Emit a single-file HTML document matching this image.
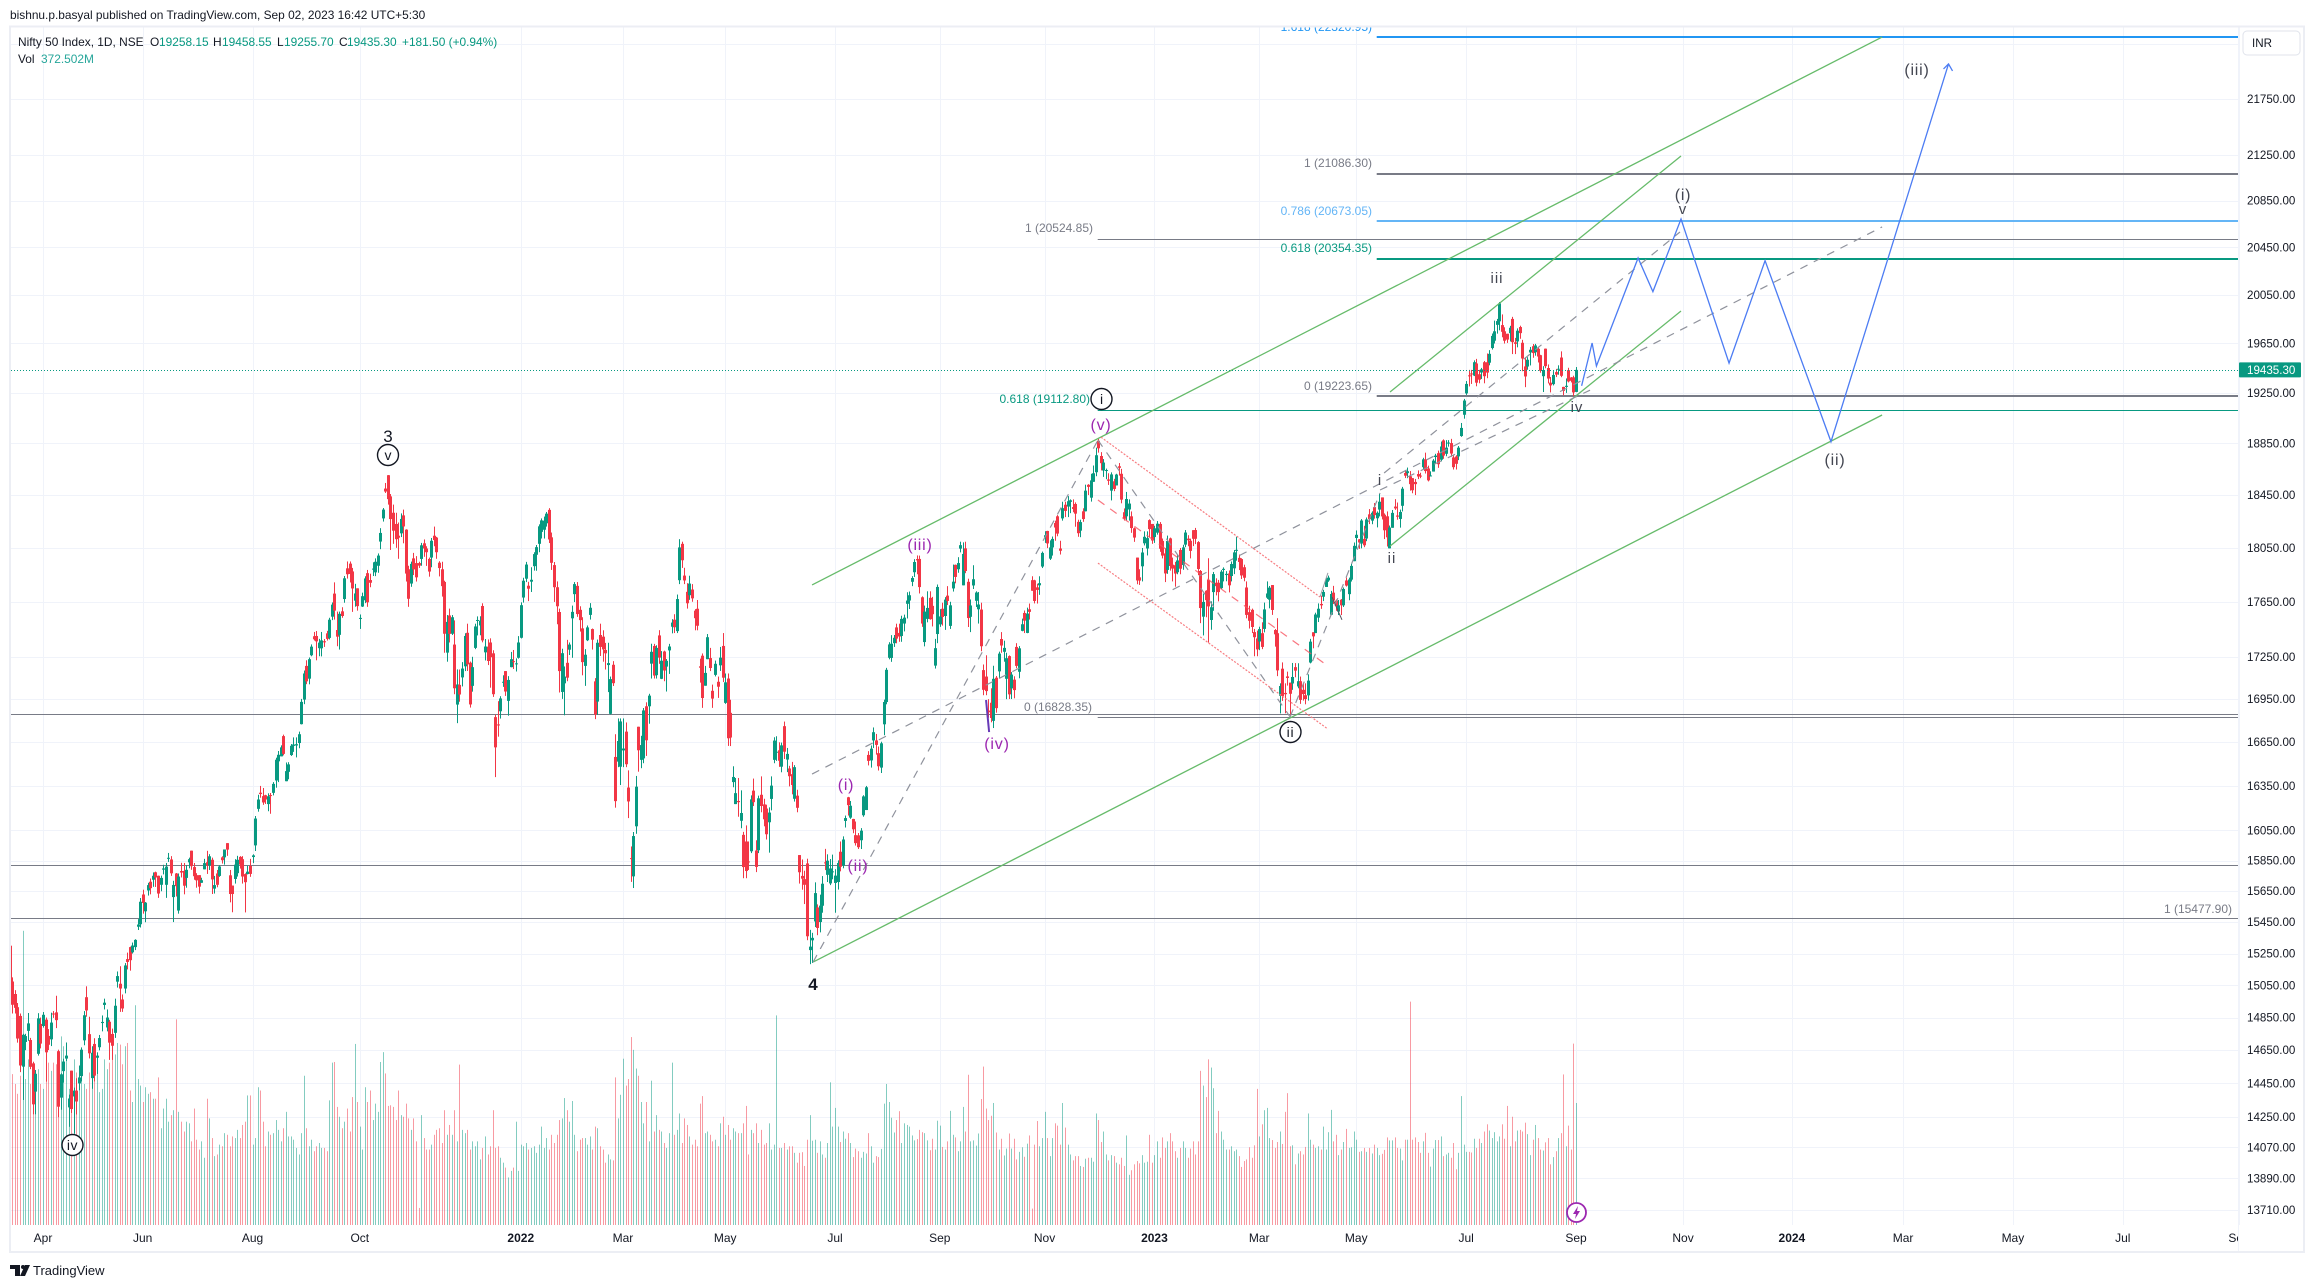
<!DOCTYPE html>
<html lang="en">
<head>
<meta charset="utf-8">
<title>Nifty 50 Index, 1D, NSE</title>
<style>
html,body{margin:0;padding:0;background:#fff;width:2315px;height:1288px;overflow:hidden}
svg{display:block;font-family:"Liberation Sans",sans-serif}
</style>
</head>
<body>
<svg id="chart" xmlns="http://www.w3.org/2000/svg" width="2315" height="1288" viewBox="0 0 2315 1288">
  <defs>
    <clipPath id="pane-clip"><rect x="11" y="27" width="2227" height="1198"/></clipPath>
    <clipPath id="time-clip"><rect x="11" y="1225" width="2227" height="26"/></clipPath>
  </defs>
  <rect x="0" y="0" width="2315" height="1288" fill="#ffffff"/>
  <text x="10" y="19" font-size="11.9" fill="#131722">bishnu.p.basyal published on TradingView.com, Sep 02, 2023 16:42 UTC+5:30</text>
  <g id="grid"></g>
  <g clip-path="url(#pane-clip)">
    <g id="volumes"></g>
    <g id="levels"></g>
    <g id="candles"></g>
    <g id="trends"></g>
    <polyline id="projection" fill="none" stroke="#4c7cf3" stroke-width="1.3"/>
    <polyline id="projection-arrow" fill="none" stroke="#4c7cf3" stroke-width="1.3"/>
    <g font-size="12" text-anchor="end">
      <text x="1372" y="31" fill="#2196f3">1.618 (22320.95)</text>
      <text x="1372" y="167" fill="#787b86">1 (21086.30)</text>
      <text x="1372" y="215" fill="#64b5f6">0.786 (20673.05)</text>
      <text x="1093" y="232" fill="#787b86">1 (20524.85)</text>
      <text x="1372" y="252" fill="#089981">0.618 (20354.35)</text>
      <text x="1372" y="390" fill="#787b86">0 (19223.65)</text>
      <text x="1090" y="403" fill="#089981">0.618 (19112.80)</text>
      <text x="1092" y="711" fill="#787b86">0 (16828.35)</text>
      <text x="2232" y="913" fill="#787b86">1 (15477.90)</text>
    </g>
    <g text-anchor="middle">
      <text x="388" y="442" font-size="17" fill="#131722">3</text>
      <circle cx="388" cy="455" r="10.5" fill="#fff" stroke="#131722" stroke-width="1.4"/>
      <text x="388" y="460" font-size="14" fill="#131722">v</text>
      <circle cx="72.5" cy="1145" r="10.5" fill="#fff" stroke="#131722" stroke-width="1.4"/>
      <text x="72.5" y="1150" font-size="14" letter-spacing="0.6" fill="#131722">iv</text>
      <text x="813" y="990" font-size="17" font-weight="bold" fill="#131722">4</text>
      <circle cx="1101.5" cy="399" r="10.5" fill="#fff" stroke="#131722" stroke-width="1.4"/>
      <text x="1101.5" y="404" font-size="14" fill="#131722">i</text>
      <circle cx="1290.5" cy="732" r="10.5" fill="#fff" stroke="#131722" stroke-width="1.4"/>
      <text x="1290.5" y="737" font-size="14" letter-spacing="0.8" fill="#131722">ii</text>
      <g font-size="16" letter-spacing="0.8" fill="#9c27b0">
        <text x="846" y="790">(i)</text>
        <text x="858" y="871">(ii)</text>
        <text x="920" y="550">(iii)</text>
        <text x="997" y="749">(iv)</text>
        <text x="1101" y="430">(v)</text>
      </g>
      <g font-size="15" letter-spacing="1" fill="#434651">
        <text x="1380" y="485">i</text>
        <text x="1392" y="563">ii</text>
        <text x="1497" y="283">iii</text>
        <text x="1577" y="412">iv</text>
        <text x="1683" y="214">v</text>
      </g>
      <g font-size="16" letter-spacing="0.8" fill="#434651">
        <text x="1683" y="200">(i)</text>
        <text x="1835" y="465">(ii)</text>
        <text x="1917" y="75">(iii)</text>
      </g>
    </g>
    <g>
      <circle cx="1576.5" cy="1212.5" r="9.5" fill="#fff" stroke="#9c27b0" stroke-width="1.8"/>
      <polygon points="1578,1206 1573,1214 1576,1214 1575,1219 1580,1211 1577,1211" fill="#9c27b0"/>
    </g>
  </g>
  <line id="last-line" x1="11" x2="2238" stroke="#089981" stroke-width="1" stroke-dasharray="1 2"/>
  <g font-size="11.9">
    <text x="18" y="46" fill="#131722">Nifty 50 Index, 1D, NSE</text>
    <text x="150" y="46" fill="#131722">O</text>
    <text x="159" y="46" fill="#089981">19258.15</text>
    <text x="213" y="46" fill="#131722">H</text>
    <text x="222" y="46" fill="#089981">19458.55</text>
    <text x="277" y="46" fill="#131722">L</text>
    <text x="284" y="46" fill="#089981">19255.70</text>
    <text x="339" y="46" fill="#131722">C</text>
    <text x="347" y="46" fill="#089981">19435.30</text>
    <text x="402" y="46" fill="#089981">+181.50 (+0.94%)</text>
    <text x="18" y="63" fill="#131722">Vol</text>
    <text x="41" y="63" fill="#26a69a">372.502M</text>
  </g>
  <line x1="2238.5" x2="2238.5" y1="27" y2="1252" stroke="#f0f3fa"/>
  <g id="price-axis" font-size="11.6" fill="#131722"></g>
  <g id="time-axis" font-size="12" fill="#131722" text-anchor="middle" clip-path="url(#time-clip)"></g>
  <rect id="last-tag" x="2239" width="62" height="15" rx="1" fill="#089981"/>
  <text id="last-text" x="2247" font-size="11.6" fill="#ffffff">19435.30</text>
  <rect x="2243" y="31" width="57" height="24" rx="4" fill="#fff" stroke="#e0e3eb"/>
  <text x="2252" y="47" font-size="11.6" fill="#131722">INR</text>
  <rect x="10" y="26.5" width="2294" height="1225.5" fill="none" stroke="#eceef4" stroke-width="2"/>
  <g>
    <polygon points="10,1265 20,1265 20,1276 15,1276 15,1269 10,1269" fill="#131722"/>
    <circle cx="23" cy="1267" r="2" fill="#131722"/>
    <polygon points="25,1265 30,1265 25,1276 20,1276" fill="#131722"/>
    <text x="33" y="1275" font-size="13" fill="#131722">TradingView</text>
  </g>
</svg>
<script>
const opens = [
15300,15074,14996,14914,14860,14550,14700,14768,14712,14570,14400,14628,14811,
14798,14837,14737,14716,14875,14882,14644,14364,14523,14599,14306,14526,14371,14406,14449,14493,14710,14976,14748,
14481,14688,14604,14668,14816,14928,14789,14824,14749,14756,15073,15060,14962,15030,15215,15291,15258,15291,15421,15437,
15629,15520,15655,15712,15725,15774,15751,15692,15791,15692,15867,15858,15612,15766,15525,15782,15783,15737,15839,15916,15808,15755,
15755,15705,15793,15840,15819,15856,15667,15766,15750,15872,15872,15966,15754,15687,15730,15768,15875,15860,15762,15762,15815,
15874,15951,16195,16304,16281,16287,16227,16288,16303,16387,16518,16552,16692,16382,16446,16561,16624,16627,16644,16775,16947,
17186,17095,17262,17399,17401,17313,17312,17363,17420,17387,17541,17710,17444,17409,17580,17670,17897,17932,17874,17658,17749,
17531,17615,17661,17861,17810,17887,17867,17916,18097,18272,18500,18603,18440,18315,18230,18141,18159,18295,18187,17890,
17784,17971,17936,17936,17967,18084,18045,17967,17977,18141,18127,17939,17890,17796,17281,17550,17417,17339,16912,17051,
17104,17183,17424,17209,17044,17315,17516,17477,17619,17283,17324,17354,17276,16824,16773,16865,17066,17149,16938,17177,17220,17201,17244,
17388,17681,17820,17768,17798,17913,17998,18080,18170,18186,18235,18337,18129,17921,17757,17575,17001,17062,17208,17302,
17529,17706,17767,17591,17456,17186,17370,17554,17451,17076,16933,17408,17396,17300,17192,16847,17194,16548,16516,16481,
16593,16723,16339,15867,15747,16078,16757,16528,16538,16900,16900,17202,17329,17120,17405,17094,17289,17181,17297,17468,17519,
17436,17809,18080,17843,17723,17698,17740,17585,17599,17183,17259,17045,17234,17242,17009,17122,17073,17190,17329,
16924,17096,16854,16376,16227,16248,16115,16021,15977,15845,15912,16318,15917,15919,16290,16225,16197,16105,16262,16528,16578,
16594,16481,16761,16530,16469,16430,16263,16284,15887,15750,15729,15832,15272,15334,15455,15545,15451,15556,15839,15757,15701,15774,
15704,15710,15909,15818,16114,16273,16136,16127,16019,16018,15985,16152,16187,16562,16524,16662,16662,16574,16475,16774,16930,
17244,17243,17349,17463,17423,17401,17491,17635,17659,17797,17868,17966,17967,17683,17357,17525,17679,17620,17188,17415,
17485,17599,17546,17695,17474,17748,17923,17890,18044,17771,18046,17797,17540,17770,17657,17595,17593,17156,17110,16870,16925,16798,
17102,17147,17379,17287,17094,17256,17026,17088,17322,17144,17438,17568,17423,17595,17809,17808,17756,17771,17910,
18130,18177,17969,18053,18237,18288,18045,18272,18376,18362,18398,18358,18382,18246,18179,18326,18326,18529,18430,18552,18626,
18871,18752,18639,18638,18570,18484,18556,18524,18672,18614,18319,18288,18340,18288,18197,17977,17830,17912,18084,18045,18259,18230,
18131,18164,18230,18102,18008,17885,18121,17924,17920,17868,18034,17922,18074,18119,18103,18183,18184,18093,17877,17541,17731,
17812,17517,17721,17790,17790,17750,17885,17847,17859,17840,17897,18034,17975,17966,17905,17755,17574,17591,17429,17383,
17361,17421,17452,17680,17665,17773,17444,17421,16974,17166,16994,17111,17067,17061,17177,17040,17077,17016,16978,16977,17210,
17428,17422,17534,17634,17687,17759,17807,17555,17717,17659,17578,17665,17624,17807,17706,17813,17950,
18124,18114,18082,18117,18120,18303,18255,18358,18273,18339,18432,18300,18288,18046,18201,18362,18294,18268,18368,18620,18619,18595,
18580,18551,18612,18600,18665,18726,18655,18595,18631,18744,18774,18723,18874,18769,18849,18853,18741,18748,18749,18908,19076,
19246,19391,19406,19389,19487,19400,19414,19497,19497,19493,19612,19672,19802,19831,19800,19749,19729,19734,19851,19659,19666,
19784,19655,19463,19462,19576,19627,19578,19606,19554,19384,19607,19450,19332,19320,19417,19440,19535,19298,19298,19433,19374,19375,
19258];
const highs = [
15336,15100,15020,14940,14875,14750,14750,14878,14725,14580,14530,14877,14850,
14884,14850,14779,14880,14890,14985,14653,14510,14598,14697,14382,14526,14424,14480,14557,14667,14890,15044,14855,
14674,14723,14637,14743,14863,14967,14900,14836,14782,14967,15137,15170,14993,15190,15256,15294,15320,15341,15470,15606,
15660,15580,15705,15733,15773,15778,15752,15752,15823,15835,15901,15880,15718,15769,15766,15836,15835,15821,15870,15916,15835,15768,
15755,15738,15862,15915,15893,15870,15750,15789,15820,15879,15910,15962,15789,15660,15860,15882,15880,15880,15767,15817,15862,
15892,16147,16290,16350,16336,16290,16300,16302,16376,16543,16589,16628,16702,16510,16512,16637,16683,16683,16723,16952,17153,
17226,17246,17340,17430,17437,17380,17430,17379,17438,17533,17645,17793,17578,17578,17610,17840,17948,17948,17900,17782,17743,
17557,17717,17838,17885,17857,17942,17971,18008,18198,18351,18543,18604,18458,18377,18315,18241,18310,18339,18190,17916,
17947,18012,17988,17946,18087,18113,18062,17977,18124,18210,18132,17950,17946,17805,17553,17600,17553,17514,17161,17160,
17213,17421,17490,17217,17251,17490,17543,17544,17639,17379,17376,17384,17298,16841,16936,16971,17119,17119,17113,17286,17300,17240,17400,
17646,17827,17945,17797,17905,18017,18071,18227,18272,18286,18321,18350,18165,17944,17800,17600,17309,17182,17373,17354,
17622,17795,17795,17617,17537,17306,17477,17640,17455,17099,17375,17490,17442,17351,17352,17110,17220,16705,16815,16815,
16815,16787,16456,15944,16040,16418,16757,16694,16888,16928,16988,17345,17344,17334,17443,17292,17295,17235,17344,17523,17559,
17703,18115,18096,17901,17787,17842,17780,17596,17663,17238,17275,17186,17415,17315,17053,17224,17110,17322,17422,
17132,17132,16946,16484,16404,16404,16320,16041,16084,15977,16286,16400,15985,16284,16415,16263,16223,16205,16415,16684,16691,
16649,16647,16793,16610,16487,16514,16492,16324,15887,15858,15784,15863,15401,15382,15708,15565,15628,15749,15928,15892,15861,15890,
15794,15852,15977,16011,16150,16276,16248,16128,16110,16033,16066,16287,16350,16588,16627,16752,16707,16620,16653,16947,17172,
17356,17407,17408,17490,17490,17548,17556,17720,17725,17839,17965,17993,17992,17690,17622,17727,17727,17686,17380,17777,
17596,17643,17684,17765,17650,17925,17925,17980,18096,18091,18096,17820,17667,17920,17727,17722,17643,17196,17262,16950,17027,17187,
17114,17288,17429,17367,17280,17261,17142,17112,17349,17328,17527,17586,17607,17637,17838,17812,17783,17838,18022,
18175,18178,18106,18135,18255,18297,18103,18399,18399,18442,18417,18417,18394,18262,18262,18349,18530,18534,18614,18678,18817,
18888,18782,18728,18654,18618,18625,18575,18614,18697,18652,18348,18474,18417,18325,18203,17977,17890,18049,18174,18174,18265,18230,
18216,18252,18244,18120,18047,18142,18127,17977,17945,17999,18049,18073,18184,18145,18119,18162,18200,18100,17884,17710,17735,
17972,17653,17870,17823,17811,17884,17904,17876,17881,17948,18034,18134,18000,17972,17924,17800,17621,17600,17452,17440,
17468,17500,17644,17800,17766,17772,17451,17530,17062,17211,17062,17145,17067,17207,17206,17205,17110,17062,17062,17126,17380,
17428,17570,17638,17695,17738,17826,17843,17730,17767,17667,17663,17670,17755,17828,17828,17931,18090,
18181,18116,18267,18216,18279,18343,18326,18389,18325,18458,18432,18310,18325,18218,18336,18419,18393,18339,18513,18641,18662,18635,
18580,18574,18640,18622,18738,18778,18677,18633,18728,18769,18794,18865,18882,18876,18876,18886,18757,18758,18830,19011,19202,
19345,19435,19435,19512,19524,19435,19451,19507,19568,19595,19731,19837,19851,19991,19888,19782,19729,19794,19868,19695,19773,
19795,19679,19537,19538,19621,19645,19646,19623,19557,19465,19608,19479,19378,19425,19443,19472,19585,19299,19366,19452,19377,19388,
19458];
const lows = [
14954,14875,14875,14696,14517,14350,14650,14707,14535,14265,14265,14617,14661,
14788,14460,14651,14675,14848,14785,14248,14292,14454,14584,14191,14273,14151,14264,14408,14461,14680,14855,14600,
14417,14461,14506,14649,14765,14900,14765,14591,14591,14725,15036,14885,14885,15000,15150,15142,15250,15272,15400,15416,
15505,15450,15622,15630,15679,15678,15607,15650,15760,15607,15842,15750,15451,15616,15505,15740,15630,15673,15800,15790,15725,15673,
15635,15705,15793,15763,15789,15632,15635,15676,15744,15831,15824,15882,15578,15514,15700,15746,15798,15700,15513,15760,15744,
15834,15914,16176,16270,16222,16228,16179,16162,16286,16338,16376,16552,16559,16395,16395,16555,16583,16545,16608,16773,16915,
17056,17055,17255,17368,17226,17255,17254,17322,17368,17376,17516,17520,17327,17303,17533,17643,17821,17792,17576,17614,17585,
17452,17612,17640,17613,17757,17840,17839,17864,18040,18248,18466,18377,18034,18080,18050,17968,18131,18084,17799,17613,
17760,17847,17799,17900,17916,17983,17915,17835,17905,18062,17968,17837,17688,17280,17216,17354,17408,16985,16782,16932,
17040,17149,17150,16891,17003,17306,17405,17406,17355,17225,17192,17031,16966,16410,16688,16814,17037,16973,16834,17176,17164,17146,17238,
17383,17644,17795,17655,17722,17880,17879,18017,18120,18120,18210,18086,17885,17649,17486,16997,16952,16837,17077,17264,
17244,17648,17540,17433,17119,17044,17364,17520,17303,16810,16839,17257,17216,17160,17000,16843,17043,16203,16478,16356,
16478,16478,16133,15711,15671,16028,16447,16471,16505,16555,16778,17096,17096,17096,17201,17092,17077,17004,17129,17420,17422,
17422,17780,17900,17780,17600,17664,17650,17442,17442,17067,16889,17046,17234,17149,16889,17111,16959,17150,17071,
16917,16624,16623,16341,16243,16142,16065,15735,15735,15789,15900,16214,15775,15900,16172,16078,15990,15903,16185,16505,16521,
16480,16443,16534,16444,16347,16293,16244,16172,15700,15660,15567,15335,15183,15191,15419,15367,15385,15511,15788,15710,15690,15728,
15511,15661,15780,15800,16070,16150,16128,16032,15950,15927,15927,16142,16187,16490,16475,16610,16564,16455,16438,16698,16914,
17233,17215,17322,17348,17359,17359,17434,17528,17597,17765,17833,17853,17711,17467,17326,17500,17519,17470,17167,17349,
17467,17476,17445,17626,17452,17725,17786,17864,18016,17772,17861,17466,17429,17744,17612,17491,17291,16978,16978,16820,16788,16748,
16855,17097,17280,17216,16950,16951,16951,16956,17169,17098,17435,17422,17421,17520,17747,17638,17637,17701,17899,
18087,18048,17959,17992,18103,18137,18000,18255,18282,18282,18312,18319,18209,18133,18130,18246,18325,18450,18400,18552,18595,
18778,18640,18590,18572,18528,18409,18480,18524,18600,18387,18256,18256,18255,18163,18095,17779,17774,17800,18068,17993,18130,18080,
18087,18149,18020,17971,17795,17856,17880,17800,17761,17853,17853,17886,18055,18062,17971,18063,18078,17846,17494,17405,17537,
17353,17446,17584,17697,17653,17744,17800,17801,17719,17800,17854,17954,17884,17818,17801,17529,17455,17422,17255,17255,
17299,17306,17427,17671,17602,17554,17324,17113,16850,16938,16851,17046,16828,17016,17105,17027,16917,16940,16914,16940,17204,
17312,17422,17502,17598,17655,17759,17797,17553,17634,17584,17553,17553,17612,17762,17661,17799,17950,
18043,18042,18046,18055,18100,18229,18228,18270,18204,18287,18264,18116,18060,18046,18201,18337,18262,18202,18325,18581,18580,18484,
18464,18450,18573,18580,18650,18616,18555,18595,18631,18690,18660,18710,18730,18750,18825,18746,18647,18647,18720,18902,19045,
19234,19302,19322,19385,19303,19327,19362,19327,19368,19472,19600,19649,19730,19757,19700,19649,19654,19666,19563,19563,19618,
19688,19424,19296,19436,19471,19533,19550,19495,19412,19257,19448,19326,19254,19310,19377,19396,19376,19230,19250,19334,19334,19224,
19256];
const closes = [
15031,14929,14910,14721,14557,14744,14736,14814,14549,14324,14507,14845,14690,
14867,14637,14683,14819,14873,14834,14310,14504,14581,14617,14359,14296,14406,14341,14485,14653,14864,14894,14631,
14634,14496,14617,14724,14823,14942,14850,14696,14677,14923,15108,15030,14906,15175,15197,15208,15301,15337,15435,15582,
15574,15576,15690,15670,15751,15740,15635,15737,15799,15811,15869,15767,15691,15683,15746,15772,15686,15790,15860,15814,15748,15721,
15680,15722,15834,15818,15879,15727,15690,15692,15812,15853,15924,15923,15632,15632,15824,15856,15824,15746,15709,15778,15763,
15885,16130,16258,16295,16238,16258,16280,16282,16364,16529,16563,16614,16569,16451,16497,16625,16634,16636,16705,16931,17132,
17076,17234,17324,17377,17362,17353,17369,17355,17380,17519,17629,17585,17396,17562,17546,17823,17853,17855,17748,17711,17618,
17532,17691,17822,17646,17790,17895,17946,17992,18162,18339,18477,18419,18267,18179,18115,18126,18268,18211,17858,17672,
17930,17889,17830,17917,18069,18045,18017,17873,18103,18109,18017,17899,17765,17417,17503,17416,17537,17027,17054,16983,
17167,17401,17197,16913,17177,17470,17517,17512,17369,17325,17221,17248,16985,16614,16770,16955,17073,17004,17086,17234,17214,17204,17354,
17625,17805,17925,17746,17812,18003,18055,18212,18257,18255,18308,18113,17938,17757,17617,17149,17277,17110,17102,17339,
17576,17780,17560,17516,17213,17266,17463,17606,17374,16842,17352,17322,17304,17276,17206,17092,17063,16247,16658,16794,
16606,16498,16245,15863,16013,16345,16594,16630,16871,16663,16975,17287,17117,17315,17245,17223,17153,17222,17325,17498,17464,
17670,18053,17957,17807,17639,17784,17675,17530,17475,17173,16958,17136,17392,17171,16954,17201,17038,17245,17102,
17069,16677,16682,16411,16301,16240,16167,15808,15782,15842,16259,16240,15809,16266,16214,16125,16025,16170,16352,16661,16584,
16522,16628,16584,16569,16416,16356,16478,16202,15774,15732,15692,15360,15294,15350,15638,15413,15557,15699,15832,15850,15799,15780,
15752,15835,15810,15990,16133,16220,16216,16058,15966,15939,16049,16279,16341,16521,16605,16719,16631,16484,16642,16930,17158,
17340,17345,17388,17382,17397,17525,17534,17659,17698,17825,17944,17956,17758,17491,17578,17605,17523,17559,17313,17759,
17543,17539,17666,17656,17624,17798,17833,17936,18070,18004,17877,17531,17623,17816,17718,17630,17327,17016,17007,16858,16818,17094,
16887,17274,17332,17315,17241,16984,17124,17014,17186,17312,17486,17512,17564,17576,17731,17656,17737,17787,18012,
18145,18083,18053,18117,18203,18157,18028,18350,18329,18403,18410,18344,18308,18160,18244,18267,18484,18513,18563,18618,18758,
18812,18696,18701,18643,18560,18609,18497,18608,18660,18415,18269,18420,18385,18199,18127,17807,17806,18015,18133,18123,18191,18105,
18197,18232,18043,17992,17859,18101,17914,17895,17858,17956,17894,18053,18165,18107,18027,18118,18118,17892,17604,17649,17662,
17616,17610,17854,17765,17721,17872,17893,17856,17771,17929,18016,18035,17944,17844,17827,17554,17511,17466,17392,17304,
17451,17322,17594,17711,17754,17590,17413,17154,17043,16972,16985,17100,16988,17107,17152,17077,16945,16986,16951,17081,17360,
17398,17557,17599,17624,17722,17812,17828,17707,17660,17618,17624,17624,17744,17769,17814,17915,18065,
18148,18090,18256,18069,18264,18266,18315,18297,18315,18399,18287,18182,18129,18203,18314,18348,18285,18321,18499,18599,18634,18534,
18487,18534,18593,18599,18726,18635,18563,18601,18716,18755,18688,18826,18755,18817,18857,18771,18665,18691,18817,18972,19189,
19322,19389,19399,19497,19332,19356,19439,19384,19413,19565,19711,19749,19833,19979,19745,19672,19681,19778,19660,19646,19754,
19734,19527,19382,19517,19598,19571,19633,19543,19428,19434,19465,19365,19310,19394,19397,19444,19387,19266,19307,19342,19347,19254,
19435];
const volumes = [
485,460,430,400,455,897,445,505,430,495,435,475,430,415,465,495,470,495,490,465,
575,545,545,415,465,505,465,415,525,430,415,465,445,475,500,405,415,505,475,495,
525,520,555,550,490,545,555,410,375,670,445,425,375,420,400,405,385,385,450,295,
355,385,315,335,350,627,345,315,285,315,310,255,355,260,230,255,205,385,325,265,
210,215,245,240,280,275,240,270,265,290,265,305,315,395,395,245,265,420,410,315,
240,285,275,280,320,290,255,295,345,270,270,260,235,215,280,455,295,240,260,225,
240,250,235,235,225,380,495,497,360,330,295,315,355,285,390,552,375,300,230,420,
375,410,320,370,345,497,527,462,363,365,360,320,410,335,330,370,325,290,325,255,
52,335,265,230,230,245,275,290,295,250,350,275,305,275,350,255,489,290,280,290,
230,255,240,255,200,235,270,215,240,350,235,240,205,190,175,145,165,175,315,165,
245,240,250,230,235,240,220,245,300,235,265,230,275,250,275,320,325,387,350,315,
378,275,225,260,265,265,245,270,230,300,295,240,230,190,215,200,197,450,325,397,
507,425,445,573,534,477,455,375,310,375,255,440,285,335,290,285,250,235,280,495,
275,290,340,250,325,305,270,245,260,240,370,393,280,285,275,255,260,240,310,330,
275,305,260,295,285,280,280,310,363,215,290,280,310,250,290,245,250,310,230,245,
639,235,235,250,230,240,240,220,190,220,222,180,260,335,257,260,220,255,215,205,
250,435,300,357,300,253,285,263,280,250,207,233,225,205,223,218,280,240,190,210,
207,232,370,430,375,327,282,320,347,250,310,305,300,273,258,262,290,283,280,258,
228,263,230,318,303,238,230,255,348,275,267,225,255,360,285,458,255,258,242,279,
384,483,355,320,333,372,282,230,263,212,233,279,233,263,200,223,237,208,248,273,
50,245,317,240,265,345,265,210,265,310,303,245,372,297,245,215,197,210,210,180,
177,202,205,205,193,340,320,253,285,215,197,213,210,190,185,205,180,273,153,167,
185,195,188,213,190,193,275,190,213,255,205,267,235,255,280,255,225,205,235,255,
235,205,233,255,215,255,470,425,390,505,480,417,280,348,285,260,230,230,240,225,
230,210,177,195,200,237,205,243,415,270,307,350,357,265,259,235,253,285,247,345,
402,240,243,185,218,225,215,238,340,260,245,235,240,230,300,230,283,351,255,275,
213,230,253,293,235,237,285,260,223,225,235,223,235,218,245,235,213,217,229,267,
258,258,267,235,233,197,260,260,681,260,267,253,220,255,281,220,178,233,259,259,
270,210,215,220,205,250,170,220,393,245,223,223,221,263,235,263,250,285,307,288,
265,283,255,270,307,263,363,240,330,255,288,290,285,312,277,213,260,305,265,230,
227,252,265,185,207,225,265,280,459,240,303,230,553,372];

const priceTicks = [21750,21250,20850,20450,20050,19650,19250,18850,18450,18050,17650,17250,16950,16650,16350,16050,15850,15650,15450,15250,15050,14850,14650,14450,14250,14070,13890,13710];
const gridOnlyTicks = [22250];
const timeLabels = ['Apr','Jun','Aug','Oct','2022','Mar','May','Jul','Sep','Nov','2023','Mar','May','Jul','Sep','Nov','2024','Mar','May','Jul','Sep'];
const timeBars = [13,52,95,137,200,240,280,323,364,405,448,489,527,570,613,654.9,697.5,741,784,827,872.5];

const lastPrice = 19435.30;

const levelNames = ['fib-1618-line','fib-21086-line','fib-0786-line','fib-20524-line','fib-0618-upper-line','fib-19223-line','fib-0618-lower-line','fib-16828-line','support-16845-line','support-15821-line','fib-15477-line'];
const levelPrices = [22320.95,21086.30,20673.05,20524.85,20354.35,19223.65,19112.80,16828.35,16845,15821,15477.90];
const levelStartBars = [535,535,535,425.8,535,535,425.8,425.8,-5,-5,-5];
const levelColors = ['#2196f3','#787b86','#64b5f6','#787b86','#089981','#787b86','#089981','#787b86','#787b86','#787b86','#787b86'];
const levelWidths = [2,2,2,1,2,2,1,1,1,1,1];

const trendNames = ['main-channel-upper','main-channel-lower','minor-channel-upper','minor-channel-lower','wave-count-line-long','wave-1-5-line','wave-5-ii-line','wave-ii-i-line','wave-i-upper-line','wave-parallel-line','red-channel-upper','red-channel-lower','red-channel-middle','purple-iv-line','small-gray-line','small-dark-line'];
const trendKinds = ['green','green','green','green','dash','dash','dash','dash','dash','dash','reddot','reddot','reddash','purple','thin','dark'];
const trendBars = [[314,732.8],[314.4,732.8],[540.2,654.1],[540.2,654.1],[314,732.8],[314.4,425.9],[425.9,501.1],[501.1,536.3],[537.9,653.7],[536.3,618.5],[427.1,512.8],[425.9,515.9],[425.9,514.8],[382.1,383.3],[512.8,515.9],[517.5,521.4]];
const trendPrices = [[17774,22317],[15196,19074],[19257,21241],[18063,19916],[16431,20624],[15196,18876],[18876,16826],[16826,18466],[18620,20581],[18489,19272],[18899,17685],[17936,16741],[18412,17200],[16944,16720],[17685,17863],[17685,17518]];

const projectionBars = [615.2,619.3,621,637.3,643.1,654.1,672.9,687,712.8,758.8];
const projectionPrices = [19307,19653,19466,20360,20077,20692,19490,20337,18864,22069];

const PRICE_REF = 21750, PRICE_REF_Y = 99, PRICE_K = 2407;
const LAST_BAR = 613, LAST_BAR_X = 1576, BAR_STEP = 2.555;
const VOL_BASE = 1225, VOL_SCALE = 0.328;
const UP = '#089981', DOWN = '#f23645';
const NS = 'http://www.w3.org/2000/svg';

function xOf(bar){ return LAST_BAR_X + (bar - LAST_BAR) * BAR_STEP; }
function yOf(price){ return PRICE_REF_Y - PRICE_K * Math.log(price / PRICE_REF); }
function yVol(v){ return VOL_BASE - v * VOL_SCALE; }
function snap(v, width){ return width % 2 === 1 ? Math.round(v) + 0.5 : Math.round(v); }
function make(tag, parent){
  const el = document.createElementNS(NS, tag);
  parent.appendChild(el);
  return el;
}
function setAll(el, props){
  for (const k in props) el.setAttribute(k, props[k]);
}

const gridG = document.getElementById('grid');
priceTicks.concat(gridOnlyTicks).forEach(function(p){
  const l = make('line', gridG);
  
  
  setAll(l, {x1:11, x2:2238, y1:Math.round(yOf(p))+0.5, y2:Math.round(yOf(p))+0.5, stroke:'#f0f3fa', 'stroke-width':1});
});
timeBars.forEach(function(b, i){
  const l = make('line', gridG);
  
  
  setAll(l, {x1:Math.round(xOf(b))+0.5, x2:Math.round(xOf(b))+0.5, y1:27, y2:1225, stroke:'#f0f3fa', 'stroke-width':1});
});

const volG = document.getElementById('volumes');
volumes.forEach(function(v, i){
  const r = make('rect', volG);
  
  
  const up = closes[i] >= opens[i];
  setAll(r, {x:Math.round(xOf(i)), y:yVol(v), width:1, height:VOL_BASE - yVol(v), fill: up ? 'rgba(8,153,129,0.5)' : 'rgba(242,54,69,0.5)'});
});

const levG = document.getElementById('levels');
levelPrices.forEach(function(p, i){
  const l = make('line', levG);
  
  
  const sy = snap(yOf(p), levelWidths[i]);
  setAll(l, {x1:xOf(levelStartBars[i]), x2:2238, y1:sy, y2:sy, stroke:levelColors[i], 'stroke-width':levelWidths[i]});
});

const candleG = document.getElementById('candles');
closes.forEach(function(c, i){
  const o = opens[i];
  const top = Math.max(o, c), bot = Math.min(o, c);
  const hi = Math.max(highs[i], top), lo = Math.min(lows[i], bot);
  const col = c >= o ? UP : DOWN;
  const x = Math.round(xOf(i));
  const w = make('rect', candleG);
  
  
  setAll(w, {x:x, y:yOf(hi), width:1, height:Math.max(1, yOf(lo) - yOf(hi)), fill:col});
  const b = make('rect', candleG);
  
  
  setAll(b, {x:x-1, y:yOf(top), width:3, height:Math.max(1, yOf(bot) - yOf(top)), fill:col});
});

const trendStyles = {
  green:  {stroke:'#66bb6a', 'stroke-width':1.3},
  dash:   {stroke:'#8f929c', 'stroke-width':1.2, 'stroke-dasharray':'8 7'},
  reddot: {stroke:'#f77c80', 'stroke-width':1.2, 'stroke-dasharray':'2 1.5'},
  reddash:{stroke:'#f7525f', 'stroke-width':1.2, 'stroke-dasharray':'8 7', opacity:0.8},
  purple: {stroke:'#673ab7', 'stroke-width':2},
  thin:   {stroke:'#9598a1', 'stroke-width':1},
  dark:   {stroke:'#50535e', 'stroke-width':1}
};
const trendG = document.getElementById('trends');
trendBars.forEach(function(bars, i){
  const l = make('line', trendG);
  
  
  setAll(l, {x1:xOf(bars[0]), y1:yOf(trendPrices[i][0]), x2:xOf(bars[1]), y2:yOf(trendPrices[i][1]), fill:'none'});
  setAll(l, trendStyles[trendKinds[i]]);
});

const pts = projectionBars.map(function(b, i){ return [xOf(b), yOf(projectionPrices[i])]; });
document.getElementById('projection').setAttribute('points', pts.map(function(p){ return p.join(','); }).join(' '));
const tip = pts[pts.length - 1];
document.getElementById('projection-arrow').setAttribute('points', (tip[0]-5)+','+(tip[1]+5)+' '+tip[0]+','+tip[1]+' '+(tip[0]+4)+','+(tip[1]+7));

const pAxis = document.getElementById('price-axis');
priceTicks.forEach(function(p){
  const t = make('text', pAxis);
  
  
  setAll(t, {x:2247, y:yOf(p)+4});
  t.textContent = p.toFixed(2);
});

const tAxis = document.getElementById('time-axis');
timeLabels.forEach(function(s, i){
  const t = make('text', tAxis);
  
  
  setAll(t, {x:xOf(timeBars[i]), y:1242});
  if (/^\d+$/.test(s)) t.setAttribute('font-weight', 'bold');
  t.textContent = s;
});

const ly = yOf(lastPrice);
const lastLine = document.getElementById('last-line');
lastLine.setAttribute('y1', Math.round(ly)+0.5);
lastLine.setAttribute('y2', Math.round(ly)+0.5);
document.getElementById('last-tag').setAttribute('y', ly - 7.5);
document.getElementById('last-text').setAttribute('y', ly + 4);
</script>
</body>
</html>
